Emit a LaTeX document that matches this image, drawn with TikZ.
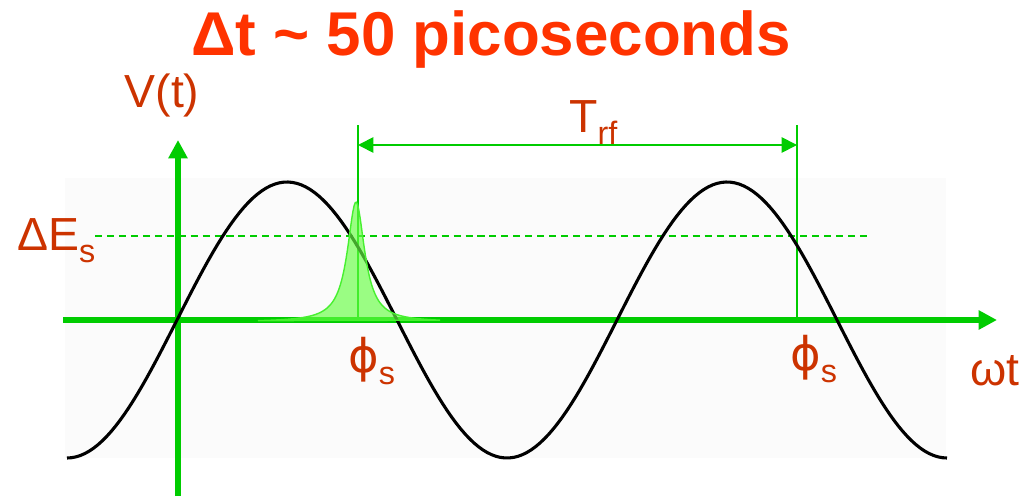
\documentclass[tikz,border=0pt]{standalone}
\usepackage{fontspec}
\setmainfont{Liberation Sans}
\newfontfamily\griega{DejaVu Sans}
\usetikzlibrary{arrows.meta}
\definecolor{verde}{HTML}{00CC00}
\definecolor{verdeclaro}{HTML}{66FF44}
\definecolor{naranja}{HTML}{FF3300}
\definecolor{ladrillo}{HTML}{CC3300}
\definecolor{fondo}{HTML}{FBFBFB}
\newcommand{\bajo}[1]{\raisebox{-9pt}{\fontsize{23}{23}\selectfont #1}}
\tikzset{
  eje/.style={draw=verde,line width=3.6pt,-{Triangle[length=13pt,width=13pt]}},
  cota/.style={draw=verde,line width=1.3pt,{Triangle[length=11pt,width=11pt]}-{Triangle[length=11pt,width=11pt]}},
  guia/.style={draw=verde,line width=1.3pt},
  nivel/.style={draw=verde,line width=1.1pt,dash pattern=on 5pt off 3.5pt},
  curva/.style={draw=black,line width=2.2pt},
  haz/.style={draw=verdeclaro!70!verde,line width=1pt,fill=verdeclaro,fill opacity=0.65},
  etiqueta/.style={text=ladrillo,font=\fontsize{33}{33}\selectfont,inner sep=0pt},
  titulo/.style={text=naranja,font=\fontsize{44}{44}\selectfont\bfseries,inner sep=0pt},
}

\begin{document}
\begin{tikzpicture}[x=0.025cm,y=0.025cm]
\useasboundingbox (0,0) rectangle (1019,496);
\fill[fondo] (65,38) rectangle (946,318);
\coordinate (ox1) at (63,176);
\coordinate (ox2) at (997,176);
\coordinate (oy1) at (178,0);
\coordinate (oy2) at (178,356);
\coordinate (f1) at (358,176);
\coordinate (f1a) at (358,371);
\coordinate (f2) at (797,176);
\coordinate (f2a) at (797,371);
\coordinate (n1) at (95,260);
\coordinate (n2) at (867,260);
\coordinate (t1) at (358,351);
\coordinate (t2) at (797,351);
\draw[eje] (ox1) -- (ox2);
\draw[eje] (oy1) -- (oy2);
\draw[nivel] (n1) -- (n2);
\draw[guia] (f1) -- (f1a);
\draw[guia] (f2) -- (f2a);
\draw[curva] plot[domain=67:947,samples=200] (\x,{176-138*cos(0.81818*(\x-67))});
\filldraw[haz] plot[domain=258:440,samples=160] (\x,{174+120/(1+((\x-356)/10.5)^2)}) -- cycle;
\draw[cota] (t1) -- (t2);
\node[titulo,anchor=base] (titulo) at (491,441) {Δt \textasciitilde{} 50 picoseconds};
\node[etiqueta,anchor=base] (vt) at (162,389) {V(t)};
\node[etiqueta,anchor=base west] (trf) at (569,364) {T\bajo{rf}};
\node[etiqueta,anchor=base west] (des) at (17,246) {ΔE\bajo{s}};
\node[etiqueta,anchor=base west] (fase1) at (348,124) {{\griega ϕ}\bajo{s}};
\node[etiqueta,anchor=base west] (fase2) at (790,126) {{\griega ϕ}\bajo{s}};
\node[etiqueta,anchor=base west] (wt) at (970,111) {ωt};
\end{tikzpicture}
\end{document}
